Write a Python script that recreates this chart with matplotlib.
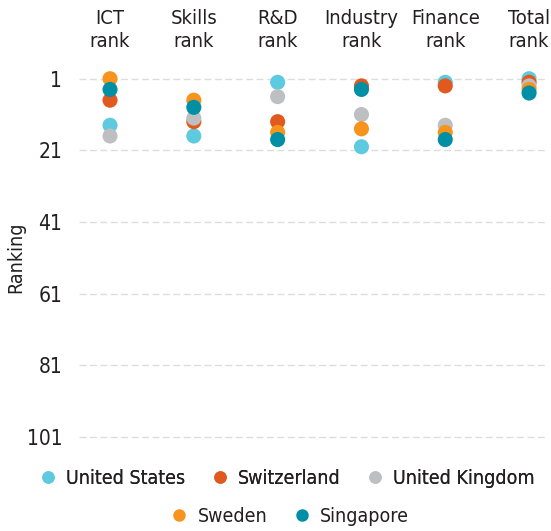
import matplotlib
matplotlib.use("Agg")
import matplotlib.pyplot as plt
from matplotlib.lines import Line2D

plt.rcParams['font.family'] = ['DejaVu Sans']
plt.rcParams['font.stretch'] = 'condensed'

categories = ["ICT\nrank", "Skills\nrank", "R&D\nrank", "Industry\nrank", "Finance\nrank", "Total\nrank"]
countries = ["United States", "Switzerland", "United Kingdom", "Sweden", "Singapore"]

united_states = [14, 17, 2, 20, 2, 1]
switzerland = [7, 13, 13, 3, 3, 2]
united_kingdom = [17, 12, 6, 11, 14, 3]
sweden = [1, 7, 16, 15, 16, 4]
singapore = [4, 9, 18, 4, 18, 5]

y_ticks = [1, 21, 41, 61, 81, 101]

colors = ["#5DCADF", "#E1591F", "#BEBFC1", "#F7941D", "#008FA5"]
text_color = "#231F20"

series = [united_states, switzerland, united_kingdom, sweden, singapore]

fig = plt.figure(figsize=(5.51, 5.31), dpi=100)
ax = fig.add_axes([0.1434, 0.1573, 0.8457, 0.7147])

xs = list(range(len(categories)))
for vals, col in zip(series, colors):
    ax.scatter(xs, vals, s=118, color=col, edgecolors="none", zorder=3)

ax.set_xlim(-0.37, 5.19)
ax.set_ylim(104, -2)
ax.set_yticks(y_ticks)
ax.set_yticklabels([str(t) for t in y_ticks])
ax.set_xticks([])
for t in y_ticks:
    ax.axhline(t, color="#DDDDDD", lw=1.0, ls=(0, (5, 2.5)), zorder=1)

for s in ax.spines.values():
    s.set_visible(False)
ax.tick_params(axis="y", length=0, pad=12, labelsize=15, labelcolor=text_color)
ax.set_ylabel("Ranking", fontsize=14, color=text_color, labelpad=1)

for x, lab in zip(xs, categories):
    ax.text(x, 1.155, lab, transform=ax.get_xaxis_transform(), ha="center",
            va="top", fontsize=14.5, color=text_color, linespacing=1.25)

def handles(idx):
    return [Line2D([], [], marker="o", ls="none", markersize=9,
                   markerfacecolor=colors[i], markeredgecolor="none",
                   label=countries[i]) for i in idx]

leg_kw = dict(frameon=False, fontsize=14, handlelength=0.8, handletextpad=0.55,
              columnspacing=1.35, labelcolor=text_color, borderpad=0,
              loc="center")
leg1 = fig.legend(handles=handles([0, 1, 2]), ncol=3,
                  bbox_to_anchor=(0.522, 1 - 478 / 531), **leg_kw)
fig.add_artist(leg1)
fig.legend(handles=handles([3, 4]), ncol=2,
           bbox_to_anchor=(0.527, 1 - 516 / 531), **leg_kw)

fig.savefig("out.png", dpi=100)
